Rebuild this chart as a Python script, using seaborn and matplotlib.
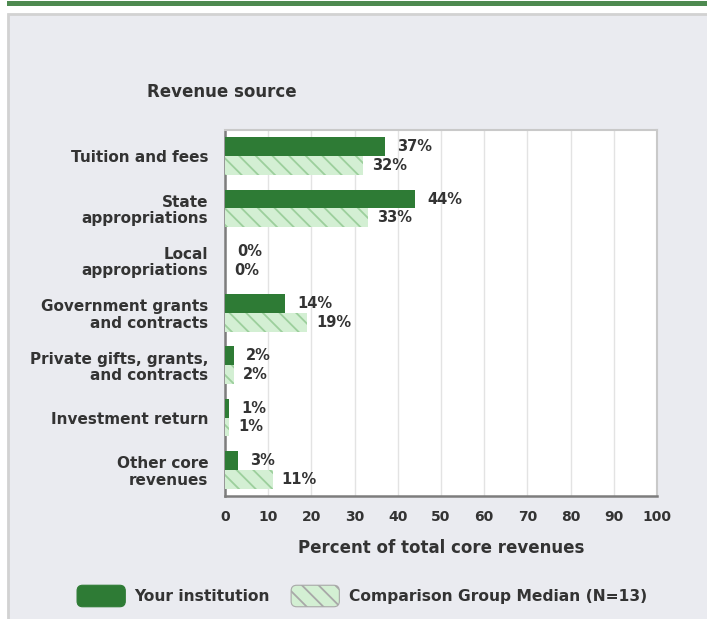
import matplotlib
matplotlib.use("Agg")
import matplotlib.pyplot as plt
import seaborn as sns
import pandas as pd
from matplotlib.patches import Rectangle, FancyBboxPatch, Patch
from matplotlib.legend_handler import HandlerPatch

categories = ["Tuition and fees", "State\nappropriations", "Local\nappropriations",
              "Government grants\nand contracts", "Private gifts, grants,\nand contracts",
              "Investment return", "Other core\nrevenues"]
series_names = ["Your institution", "Comparison Group Median (N=13)"]
your_values = [37, 44, 0, 14, 2, 1, 3]
median_values = [32, 33, 0, 19, 2, 1, 11]
x_ticks = [0, 10, 20, 30, 40, 50, 60, 70, 80, 90, 100]

df = pd.DataFrame({
    "category": categories * 2,
    "series": [series_names[0]] * len(categories) + [series_names[1]] * len(categories),
    "value": your_values + median_values,
})

sns.set_style("white")
plt.rcParams['font.family'] = ['DejaVu Sans']
plt.rcParams['hatch.linewidth'] = 1.3

DARK = "#2e7b35"
LIGHT = "#d3efd3"
HATCH = "#9ccf9c"
TXT = "#333333"

fig = plt.figure(figsize=(7.07, 6.19), dpi=100)
fig.patch.set_facecolor("white")

# top green band and panel
fig.add_artist(Rectangle((7/707, 1 - 6/619), 700/707, 5/619, transform=fig.transFigure,
                         facecolor="#4e8a50", edgecolor="none", zorder=0))
fig.add_artist(Rectangle((8/707, -0.05), 1.0, 1 - 14/619 + 0.05, transform=fig.transFigure,
                         facecolor="#eaebf0", edgecolor="#d2d2d2", linewidth=2, zorder=0))

ax = fig.add_axes([225/707, 1 - 496/619, 432/707, 366/619])
ax.set_facecolor("white")

sns.barplot(data=df, y="category", x="value", hue="series", orient="h",
            palette=[DARK, LIGHT], width=0.72, ax=ax, legend=False, zorder=3,
            linewidth=0, saturation=1)

for bar in ax.containers[1]:
    bar.set_hatch("\\\\")
    bar.set_edgecolor(HATCH)
    bar.set_linewidth(0)

offsets = [8.5, 6.5]
for ci, cont in enumerate(ax.containers):
    for bar in cont:
        w = bar.get_width()
        y = bar.get_y() + bar.get_height() / 2
        ax.annotate(f"{w:.0f}%", xy=(w, y), xytext=(offsets[ci], 0), textcoords="offset points",
                    ha="left", va="center", fontsize=10.5, fontweight="bold", color=TXT, zorder=5)

ax.set_xlim(0, 100)
ax.set_ylim(len(categories) - 0.5, -0.5)
ax.set_xticks(x_ticks)
ax.set_xticklabels([str(t) for t in x_ticks], fontsize=10, fontweight="bold", color=TXT)
ax.tick_params(axis="x", length=0, pad=10)
ax.xaxis.grid(True, color="#e3e3e3", linewidth=1, zorder=0)
ax.set_axisbelow(True)

ax.set_yticks(range(len(categories)))
ax.set_yticklabels(categories, fontsize=11, fontweight="bold", color=TXT,
                   multialignment="right", linespacing=1.1)
ax.tick_params(axis="y", which="major", length=0, pad=12)
ax.set_yticks([i - 0.5 for i in range(len(categories))], minor=True)
ax.tick_params(axis="y", which="minor", length=7, width=1.5, color="#666666", direction="out")

ax.set_xlabel("Percent of total core revenues", fontsize=12, fontweight="bold",
              color=TXT, labelpad=11)
ax.set_ylabel("")

for s in ["top", "right"]:
    ax.spines[s].set_color("#c9c9c9")
    ax.spines[s].set_linewidth(1.5)
for s in ["left", "bottom"]:
    ax.spines[s].set_color("#7d7d7d")
    ax.spines[s].set_linewidth(1.8)

fig.text(147/707, 1 - 92/619, "Revenue source", fontsize=12, fontweight="bold",
         color=TXT, ha="left", va="center")


class RoundHandler(HandlerPatch):
    def create_artists(self, legend, orig_handle, xdescent, ydescent, width, height, fontsize, trans):
        p = FancyBboxPatch((-xdescent, -ydescent), width, height,
                           boxstyle="round,pad=0,rounding_size=4",
                           facecolor=orig_handle.get_facecolor(),
                           edgecolor="#a8a8a8" if orig_handle.get_hatch() else DARK,
                           hatch=orig_handle.get_hatch(), linewidth=0.8, transform=trans)
        return [p]


h1 = Patch(facecolor=DARK, edgecolor=DARK)
h2 = Patch(facecolor=LIGHT, edgecolor=HATCH, hatch="\\\\")
leg = fig.legend([h1, h2], series_names, loc="center", bbox_to_anchor=(362/707, 1 - 596/619),
                 ncol=2, frameon=False, handler_map={Patch: RoundHandler()},
                 handlelength=3.1, handleheight=1.75, handletextpad=0.6, columnspacing=1.35,
                 prop={"weight": "bold", "size": 11.2})
for t in leg.get_texts():
    t.set_color(TXT)

fig.savefig("out.png", dpi=100, facecolor=fig.get_facecolor())
